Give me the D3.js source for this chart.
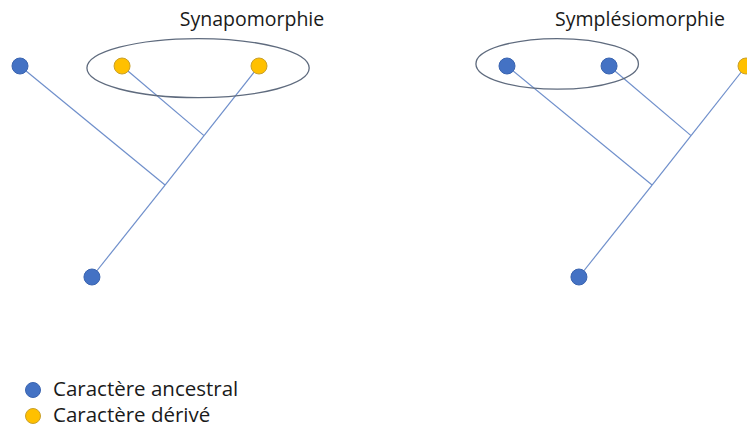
<!DOCTYPE html>
<html>
<head>
<meta charset="utf-8">
<script src="https://cdn.jsdelivr.net/npm/d3@7"></script>
<style>
  body { margin: 0; background: #fff; }
  svg { display: block; font-family: "Open Sans", sans-serif; }
</style>
</head>
<body>
<div id="chart"></div>
<script>
// tree shape, in tree units (x: 0 = leftmost leaf, 1 = rightmost leaf; depth: 0 = leaves, 1 = root)
const leafNames = ["A", "B", "C"];
const leafX = [0, 0.427, 1];
const innerNodes = [
  {id: "n1", x: 0.77, depth: 0.33, children: ["B", "C"]},
  {id: "n2", x: 0.607, depth: 0.564, children: ["A", "n1"]},
  {id: "root", x: 0.301, depth: 1, children: ["n2"]}
];

// per panel
const panelTitles = ["Synapomorphie", "Symplésiomorphie"];
const panelStates = [
  ["ancestral", "dérivé", "dérivé"],
  ["ancestral", "ancestral", "dérivé"]
];
const rootState = "ancestral";
// grouped leaves circled on each panel: [left edge, right edge, top depth, bottom depth]
const panelGroups = [
  [0.28, 1.21, -0.13, 0.15],
  [-0.13, 0.55, -0.13, 0.11]
];

const legendLabels = ["Caractère ancestral", "Caractère dérivé"];
const legendStates = ["ancestral", "dérivé"];

const fill = {"ancestral": "#4472C4", "dérivé": "#FFC000"};
const stroke = {"ancestral": "#3A64B0", "dérivé": "#C9A02A"};

const W = 747, H = 427;
const panelOffset = [0, 487];
const titleX = [252, 153];

const x = d3.scaleLinear().domain([0, 1]).range([20, 259]);
const y = d3.scaleLinear().domain([0, 1]).range([66, 277]);

const svg = d3.select("#chart").append("svg")
  .attr("width", W)
  .attr("height", H);

panelTitles.forEach(function(title, p) {
  const g = svg.append("g").attr("transform", `translate(${panelOffset[p]},0)`);

  const nodes = {};
  leafNames.forEach(function(n, i) {
    nodes[n] = {x: leafX[i], depth: 0, state: panelStates[p][i]};
  });
  innerNodes.forEach(function(n) { nodes[n.id] = {x: n.x, depth: n.depth}; });
  nodes.root.state = rootState;

  const edges = [];
  innerNodes.forEach(function(n) {
    n.children.forEach(function(c) { edges.push([nodes[c], nodes[n.id]]); });
  });

  g.selectAll(".branch")
    .data(edges)
    .enter().append("line")
    .attr("class", "branch")
    .attr("x1", d => x(d[0].x))
    .attr("y1", d => y(d[0].depth))
    .attr("x2", d => x(d[1].x))
    .attr("y2", d => y(d[1].depth))
    .style("stroke", "#6F8FCB")
    .style("stroke-width", 1.2);

  const grp = panelGroups[p];
  g.append("ellipse")
    .attr("cx", (x(grp[0]) + x(grp[1])) / 2)
    .attr("cy", (y(grp[2]) + y(grp[3])) / 2)
    .attr("rx", (x(grp[1]) - x(grp[0])) / 2)
    .attr("ry", (y(grp[3]) - y(grp[2])) / 2)
    .style("fill", "none")
    .style("stroke", "#5F6B7E")
    .style("stroke-width", 1.3);

  const dots = leafNames.map(n => nodes[n]).concat([nodes.root]);
  g.selectAll(".node")
    .data(dots)
    .enter().append("circle")
    .attr("class", "node")
    .attr("cx", d => x(d.x))
    .attr("cy", d => y(d.depth))
    .attr("r", 8)
    .style("fill", d => fill[d.state])
    .style("stroke", d => stroke[d.state])
    .style("stroke-width", 1);

  g.append("text")
    .attr("x", titleX[p])
    .attr("y", 26)
    .attr("text-anchor", "middle")
    .style("font-size", "19.5px")
    .style("fill", "#1a1a1a")
    .text(title);
});

const legend = svg.append("g").attr("transform", "translate(33,390)");
const items = legend.selectAll(".item")
  .data(legendLabels)
  .enter().append("g")
  .attr("class", "item")
  .attr("transform", (d, i) => `translate(0,${i * 26})`);

items.append("circle")
  .attr("r", 7.5)
  .style("fill", (d, i) => fill[legendStates[i]])
  .style("stroke", (d, i) => stroke[legendStates[i]])
  .style("stroke-width", 1);

items.append("text")
  .attr("x", 20)
  .attr("y", 6)
  .style("font-size", "20.5px")
  .style("fill", "#1a1a1a")
  .text(d => d);
</script>
</body>
</html>
